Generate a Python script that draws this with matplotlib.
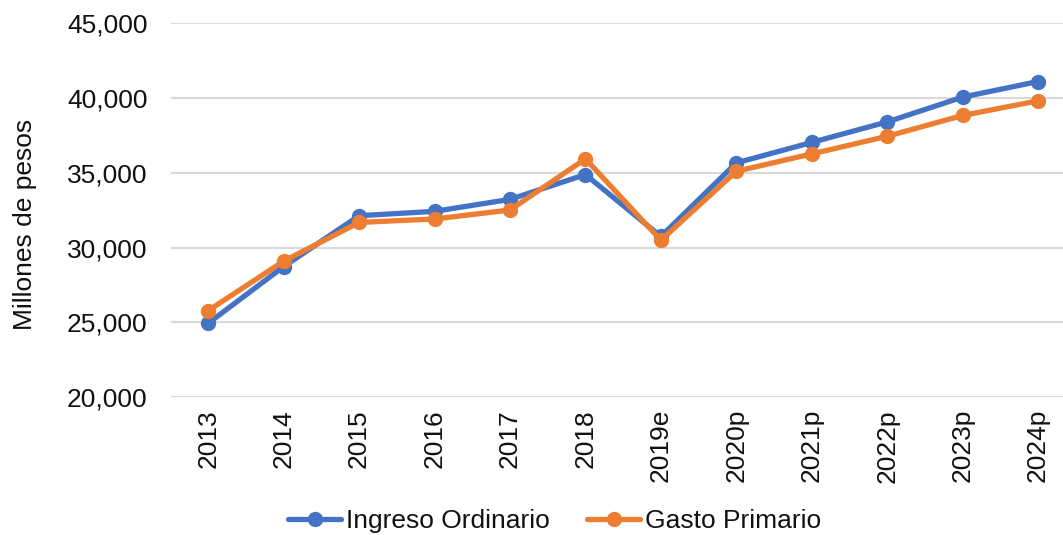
import matplotlib

matplotlib.use("Agg")
import matplotlib.pyplot as plt
from matplotlib.ticker import FuncFormatter

# --- datos (millones de pesos) ---
years = ["2013", "2014", "2015", "2016", "2017", "2018",
         "2019e", "2020p", "2021p", "2022p", "2023p", "2024p"]
ingreso = [24950, 28740, 32140, 32430, 33230, 34890,
           30750, 35670, 37040, 38410, 40070, 41110]
gasto = [25800, 29100, 31690, 31920, 32520, 35940,
         30500, 35110, 36270, 37450, 38840, 39820]

BLUE = "#4472C4"
ORANGE = "#ED7D31"
GRID = "#D9D9D9"
TEXT = "#111111"
FS = 19

plt.rcParams.update({
    "font.family": ["Liberation Sans", "DejaVu Sans"],
    "font.size": FS,
    "text.color": TEXT,
})

fig = plt.figure(figsize=(10.63, 5.35), dpi=100)
ax = fig.add_axes([0.1604, 0.2574, 0.8396, 0.699])

x = range(len(years))
ax.plot(x, ingreso, color=BLUE, lw=3.8, marker="o", ms=10,
        label="Ingreso Ordinario", solid_capstyle="round", zorder=3)
ax.plot(x, gasto, color=ORANGE, lw=3.8, marker="o", ms=10,
        label="Gasto Primario", solid_capstyle="round", zorder=4)

ax.set_ylim(20000, 45000)
ax.set_yticks(range(20000, 45001, 5000))
ax.yaxis.set_major_formatter(FuncFormatter(lambda v, _: f"{v:,.0f}"))
ax.set_xlim(-0.5, 11.33)
ax.set_xticks(list(x), years, rotation=90)

ax.grid(axis="y", color=GRID, lw=1.5)
ax.set_axisbelow(True)
for s in ax.spines.values():
    s.set_visible(False)
ax.tick_params(axis="both", length=0, colors=TEXT, labelsize=FS)
ax.tick_params(axis="y", pad=16.5)
ax.tick_params(axis="x", pad=8.5)

ax.set_ylabel("Millones de pesos", fontsize=FS, color=TEXT)
ax.yaxis.set_label_coords(-0.150, 0.461)

fig.legend(loc="center", bbox_to_anchor=(0.522, 0.026),
           ncols=2, frameon=False, fontsize=FS, handlelength=2.0,
           handletextpad=0.2, columnspacing=1.4, borderaxespad=0,
           borderpad=0)

fig.savefig("out.png", dpi=100)
